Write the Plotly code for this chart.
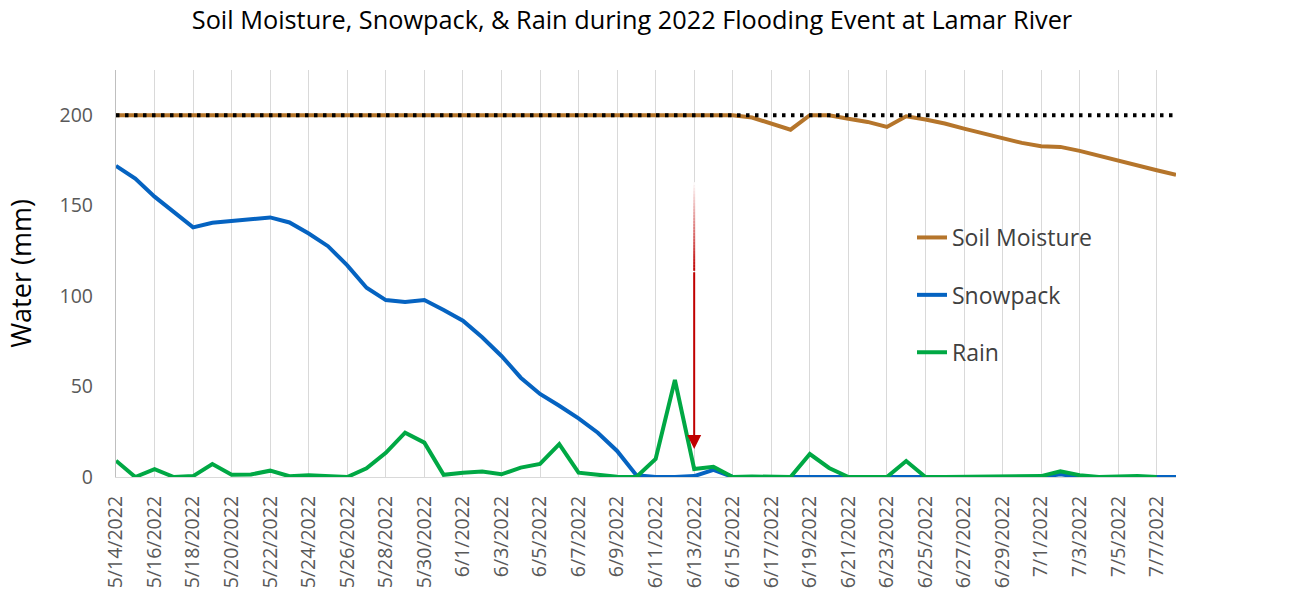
import plotly.graph_objects as go
import pandas as pd

# ---- data -------------------------------------------------------------
dates = pd.date_range("2022-05-14", "2022-07-08", freq="D")

soil_moisture = [200, 200, 200, 200, 200, 200, 200, 200, 200, 200,
                 200, 200, 200, 200, 200, 200, 200, 200, 200, 200,
                 200, 200, 200, 200, 200, 200, 200, 200, 200, 200,
                 200, 200, 200, 198.7, 195.5, 192, 200, 200, 198, 196.3,
                 193.5, 199.4, 197.6, 195.4, 192.6, 189.9, 187.1, 184.7, 182.9, 182.5,
                 180.3, 177.5, 174.8, 172.2, 169.6, 167]

snowpack = [172, 165, 155, 146.5, 138, 140.5, 141.5, 143, 143.5, 140.7,
            134.6, 127.6, 117, 104.6, 97.8, 96.7, 97.8, 92.3, 86.4, 77.2,
            66.9, 54.9, 45.9, 39.4, 32.4, 24.5, 14.4, 1, 0, 0,
            0.5, 3.9, 0, 0, 0, 0, 0, 0, 0, 0,
            0, 0, 0, 0, 0, 0, 0, 0, 0, 1.5,
            0, 0, 0, 0, 0, 0]

rain = [9, 0, 4.4, 0, 0.5, 7.2, 1.2, 1.4, 3.5, 0.4,
        1, 0.3, 0, 4.8, 13.4, 24.5, 19, 1.2, 2.4, 3,
        1.5, 5.2, 7.2, 18.2, 2.4, 1.2, 0.2, 0, 10, 53.6,
        4.4, 5.7, 0, 0.3, 0, 0, 12.7, 5, 0, 0,
        0, 8.8, 0, 0, 0, 0.5, 0, 0, 0.5, 3.1,
        1, 0, 0.3, 0.5, 0]

capacity_level = 200          # dotted reference line (mm)
y_ticks = [0, 50, 100, 150, 200]

flood_date = "2022-06-13"     # red arrow
arrow_top = 163
arrow_solid_from = 114
arrow_tip = 15.5

title_text = "Soil Moisture, Snowpack, & Rain during 2022 Flooding Event at Lamar River"

# ---- styling ----------------------------------------------------------
FONT = "Open Sans"
C_SOIL = "#B5752B"
C_SNOW = "#0563C1"
C_RAIN = "#00A844"
C_ARROW = (192, 0, 0)

W, H = 1300, 602
PL, PR, PT, PB = 116, 1176, 70, 477   # plot area in window pixels

fig = go.Figure()

fig.add_trace(go.Scatter(x=dates, y=snowpack, mode="lines", name="Snowpack",
                         line=dict(color=C_SNOW, width=4), legendrank=2,
                         legendgroup="b"))
fig.add_trace(go.Scatter(x=dates[:len(rain)], y=rain, mode="lines", name="Rain",
                         line=dict(color=C_RAIN, width=4), legendrank=3,
                         legendgroup="c"))
fig.add_trace(go.Scatter(x=dates, y=soil_moisture, mode="lines", name="Soil Moisture",
                         line=dict(color=C_SOIL, width=4), legendrank=1,
                         legendgroup="a"))
fig.add_trace(go.Scatter(x=[dates[0], dates[-1]], y=[capacity_level, capacity_level],
                         mode="lines", showlegend=False,
                         line=dict(color="black", width=4, dash="3.5px,5.5px")))

# gradient shaft of the arrow
n_seg = 30
for k in range(n_seg):
    f0 = k / n_seg
    f1 = (k + 1) / n_seg
    y0 = arrow_top - (arrow_top - arrow_solid_from) * f0
    y1 = arrow_top - (arrow_top - arrow_solid_from) * f1
    t = (k + 0.5) / n_seg
    r = int(255 + (C_ARROW[0] - 255) * t)
    g = int(255 + (C_ARROW[1] - 255) * t)
    b = int(255 + (C_ARROW[2] - 255) * t)
    fig.add_shape(type="line", xref="x", yref="y", x0=flood_date, x1=flood_date,
                  y0=y0, y1=y1, line=dict(color=f"rgb({r},{g},{b})", width=2))

fig.add_annotation(x=flood_date, y=arrow_tip, ax=flood_date, ay=arrow_solid_from,
                   xref="x", yref="y", axref="x", ayref="y", text="",
                   showarrow=True, arrowhead=2, arrowsize=1.4, arrowwidth=2,
                   arrowcolor="rgb(192,0,0)", standoff=0)

fig.update_layout(
    width=W, height=H,
    paper_bgcolor="white", plot_bgcolor="white",
    margin=dict(l=PL, r=W - PR, t=PT, b=H - PB, autoexpand=False),
    font=dict(family=FONT, color="#595959"),
    title=dict(text=title_text, x=632 / W, xref="container", xanchor="center",
               y=1 - 20 / H, yref="container", yanchor="middle",
               font=dict(family=FONT, size=25.3, color="black")),
    showlegend=True,
    legend=dict(x=(912 - PL) / (PR - PL), y=(PB - 216) / (PB - PT),
                xref="paper", yref="paper",
                xanchor="left", yanchor="top", bgcolor="rgba(0,0,0,0)",
                font=dict(family=FONT, size=23, color="#404040"),
                tracegroupgap=24.5, itemwidth=30, traceorder="grouped"),
)

fig.update_xaxes(
    type="date",
    range=[dates[0], dates[-1]],
    tick0=dates[0], dtick=2 * 86400000,
    tickformat="%-m/%-d/%Y", tickangle=-90,
    tickfont=dict(family=FONT, size=19.5, color="#595959"),
    showgrid=True, gridcolor="#D9D9D9", gridwidth=1.3,
    showline=True, linecolor="#D9D9D9", linewidth=1.3,
    ticks="", ticklabelstandoff=10, zeroline=False, automargin=False,
)
fig.update_yaxes(
    range=[0, 225],
    tickvals=y_ticks,
    tickfont=dict(family=FONT, size=19.5, color="#595959"),
    showgrid=False, zeroline=False,
    showline=True, linecolor="#BFBFBF", linewidth=1.3,
    ticks="", ticklabelstandoff=18, automargin=False,
    title=dict(text="Water (mm)", font=dict(family=FONT, size=27, color="black"),
               standoff=20),
)

fig.write_html("out.html",
               config={"displayModeBar": False},
               post_script="document.body.style.margin='0';document.body.style.overflow='hidden';")
